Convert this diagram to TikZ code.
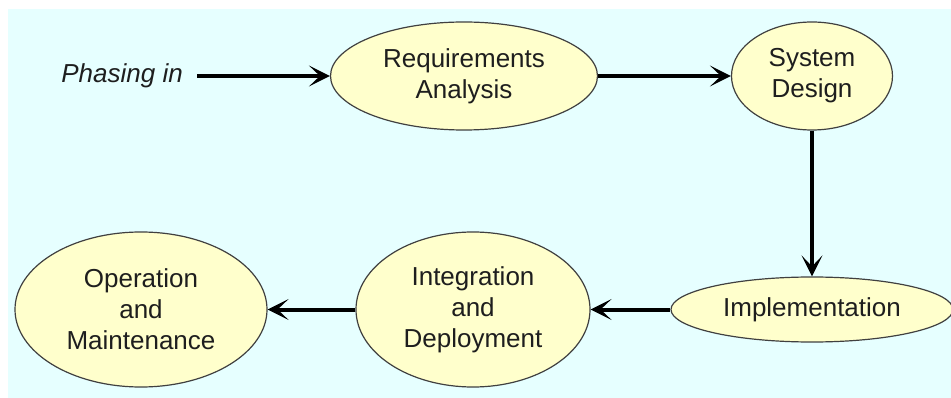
\documentclass[tikz,border=0pt]{standalone}
\usepackage{fontspec}
\setmainfont{Liberation Sans}
\usetikzlibrary{shapes.geometric,arrows.meta}
\definecolor{bgcyan}{RGB}{230,255,255}
\definecolor{phasefill}{RGB}{255,255,204}
\definecolor{inkdark}{RGB}{30,30,30}
\tikzset{
  phase/.style={ellipse, draw=inkdark!85, line width=1.2pt, fill=phasefill,
    inner sep=0pt, align=center, text=inkdark,
    font=\fontsize{26}{31}\selectfont},
  flow/.style={line width=4pt, draw=black,
    -{Stealth[length=21pt,width=21pt,inset=11pt]}}
}
\begin{document}
\begin{tikzpicture}[x=1pt,y=-1pt]
  \useasboundingbox (0,0) rectangle (951,398);
  \fill[bgcyan] (8,9) rectangle (951,398);

  % entry label
  \node[anchor=east, inner sep=0pt, font=\fontsize{26}{31}\selectfont\itshape, text=inkdark]
    (entry) at (183,76) {Phasing in};

  % phases
  \node[phase, minimum width=267pt, minimum height=108pt] (req)  at (464,76)    {Requirements\\Analysis};
  \node[phase, minimum width=161pt, minimum height=108pt] (sys)  at (812,76)    {System\\Design};
  \node[phase, minimum width=282pt, minimum height=65pt]  (impl) at (812,309.5) {Implementation};
  \node[phase, minimum width=234pt, minimum height=155pt] (integ) at (473,309.5) {Integration\\and\\Deployment};
  \node[phase, minimum width=252pt, minimum height=155pt] (oper) at (141,309.5) {Operation\\and\\Maintenance};

  % flow between phases
  \draw[flow, shorten <=14pt] (entry) -- (req);
  \draw[flow] (req) -- (sys);
  \draw[flow] (sys) -- (impl);
  \draw[flow] (impl) -- (integ);
  \draw[flow] (integ) -- (oper);
\end{tikzpicture}
\end{document}
